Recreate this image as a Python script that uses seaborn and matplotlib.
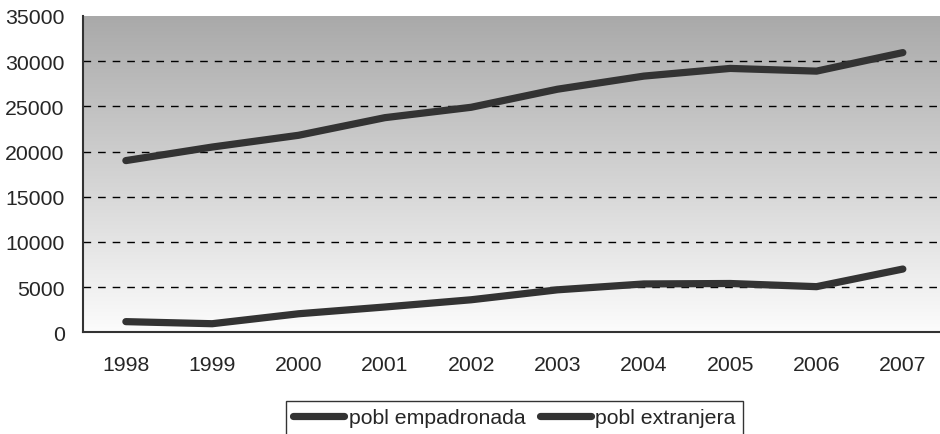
import numpy as np
import pandas as pd
import matplotlib
matplotlib.use("Agg")
import matplotlib.pyplot as plt
import seaborn as sns
from matplotlib.lines import Line2D

years = ["1998", "1999", "2000", "2001", "2002", "2003", "2004", "2005", "2006", "2007"]
empadronada = [19000, 20500, 21800, 23750, 24900, 26900, 28350, 29200, 28900, 30950]
extranjera = [1180, 950, 2050, 2800, 3600, 4700, 5350, 5400, 5050, 7000]
series_names = ["pobl empadronada", "pobl extranjera"]

df = pd.DataFrame({
    "year": years * 2,
    "value": empadronada + extranjera,
    "serie": [series_names[0]] * len(years) + [series_names[1]] * len(years),
})
df["pos"] = df["year"].map({y: i for i, y in enumerate(years)})

sns.set_style("white")
plt.rcParams["font.family"] = ["Liberation Sans", "DejaVu Sans"]

fig = plt.figure(figsize=(9.4, 4.35), dpi=100)
ax = fig.add_axes([82.7 / 940, 101.7 / 435, (946 - 82.7) / 940, (418 - 101.7) / 435])

# gradient background, dark gray at top to almost white at bottom
grad = np.linspace(0, 1, 256).reshape(-1, 1)
cmap = matplotlib.colors.LinearSegmentedColormap.from_list("bg", ["#fcfcfc", "#a9a9a9"])
ax.imshow(grad, extent=(-0.5, 9.5, 0, 35000), origin="lower", aspect="auto",
          cmap=cmap, zorder=0)

for v in range(5000, 35000, 5000):
    ax.axhline(v, color="black", lw=1, linestyle=(0, (5.5, 5)), zorder=1)

sns.lineplot(data=df, x="pos", y="value", hue="serie",
             palette=["#333333", "#333333"], lw=5.2, legend=False, ax=ax,
             solid_capstyle="round", solid_joinstyle="round", zorder=3)

ax.set_xlim(-0.5, 9.5)
ax.set_ylim(0, 35000)
ax.set_yticks(range(0, 35001, 5000))
ax.set_yticklabels([str(v) for v in range(0, 35001, 5000)], fontsize=15.3)
ax.set_xticks(range(len(years)))
ax.set_xticklabels(years, fontsize=15.3)
ax.set_xticks(np.arange(-0.5, 10, 1), minor=True)
ax.tick_params(axis="x", which="major", length=0, pad=16)
ax.tick_params(axis="x", which="minor", length=6, width=1.2, color="#333333", direction="out")
ax.tick_params(axis="y", length=6, width=1.2, color="#333333", direction="out", pad=7)
ax.set_xlabel("")
ax.set_ylabel("")

for s in ["top", "right"]:
    ax.spines[s].set_visible(False)
for s in ["left", "bottom"]:
    ax.spines[s].set_color("#333333")
    ax.spines[s].set_linewidth(1.5)
ax.spines["left"].set_zorder(4)

handles = [Line2D([0], [0], color="#333333", lw=5.2, solid_capstyle="round") for _ in series_names]
leg = fig.legend(handles, series_names, loc="upper left",
                 bbox_to_anchor=(286 / 940, 1 - 402 / 435), ncol=2, fontsize=15.3,
                 frameon=True, fancybox=False, edgecolor="black", handlelength=2.4,
                 handletextpad=0.2, columnspacing=0.7, borderpad=0.35,
                 borderaxespad=0)
leg.get_frame().set_linewidth(1)

fig.savefig("out.png", dpi=100)
